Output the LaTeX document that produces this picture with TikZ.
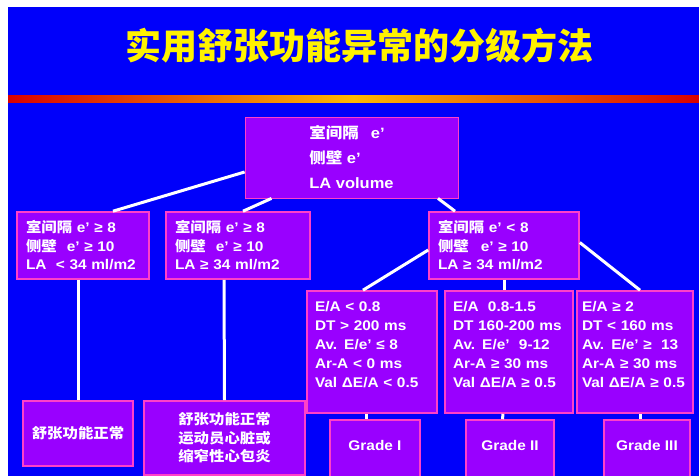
\documentclass[tikz,border=0pt]{standalone}
\usepackage{fontspec}
\setmainfont{Liberation Sans}[FakeStretch=1.1]
\newfontfamily\cjk{Noto Sans CJK SC}[FakeStretch=1.1]
\newfontfamily\cjktitle{Noto Sans CJK SC}
\newcommand{\zh}[1]{{\cjk #1}}
\definecolor{bgblue}{RGB}{0,0,250}
\definecolor{boxpurple}{RGB}{153,0,255}
\definecolor{boxpink}{RGB}{255,64,200}
\tikzstyle{box} = [rectangle, draw=boxpink, line width=1.6pt, fill=boxpurple, text=white, font=\bfseries\fontsize{14}{18.5}\selectfont, align=left, inner xsep=9pt, inner ysep=1pt]
\tikzstyle{head} = [box, line width=0.8pt, minimum width=213pt, minimum height=81pt, font=\bfseries\fontsize{15}{25}\selectfont]
\tikzstyle{crit} = [box, minimum height=122pt, inner xsep=8pt, font=\bfseries\fontsize{14}{19.2}\selectfont]
\tikzstyle{plain} = [box, align=center, inner xsep=2pt]
\tikzstyle{link} = [white, line width=3pt]

\begin{document}
\begin{tikzpicture}[x=1pt, y=-1pt]

\clip (0,0) rectangle (699,476);
\fill[bgblue] (8,7) rectangle (699,476);
\shade[left color=red!85!black, right color=red!85!black, middle color=orange!55!yellow] (8,96) rectangle (699,103);

%% NODES

\node (title) at (359,46) [text=yellow, font=\cjktitle\bfseries\fontsize{36}{40}\selectfont] {实用舒张功能异常的分级方法};

\node (top) at (351.5,157.5) [head] {\zh{室间隔}\hspace{12pt}e’\\\zh{侧壁} e’\\LA volume};

\node (l1) at (83,245.5) [box, text width=114pt, minimum height=67pt] {\zh{室间隔} e’ ≥ 8\\\zh{侧壁}\hspace{10pt}e’ ≥ 10\\LA\ \ < 34 ml/m2};
\node (l2) [box, right of=l1, node distance=155pt, text width=126pt, minimum height=67pt] {\zh{室间隔} e’ ≥ 8\\\zh{侧壁}\hspace{10pt}e’ ≥ 10\\LA ≥ 34 ml/m2};
\node (l3) at (504,245.5) [box, text width=132pt, minimum height=67pt] {\zh{室间隔} e’ < 8\\\zh{侧壁}\hspace{12pt}e’ ≥ 10\\LA ≥ 34 ml/m2};

\node (g1) at (372,352) [crit, text width=114pt] {E/A < 0.8\\DT > 200 ms\\Av. E/e’ ≤ 8\\Ar-A < 0 ms\\Val ΔE/A < 0.5\\[-4pt]\mbox{}};
\node (g2) [crit, right of=g1, node distance=137pt, text width=112pt] {E/A\ \ 0.8-1.5\\DT 160-200 ms\\Av. E/e’\ \ 9-12\\Ar-A ≥ 30 ms\\Val ΔE/A ≥ 0.5\\[-4pt]\mbox{}};
\node (g3) [crit, right of=g2, node distance=126pt, text width=106pt, inner xsep=5pt] {E/A ≥ 2\\DT < 160 ms\\Av. E/e’ ≥\ \ 13\\Ar-A ≥ 30 ms\\Val ΔE/A ≥ 0.5\\[-4pt]\mbox{}};

\node (n1) at (78,433.5) [plain, minimum width=110pt, minimum height=65pt] {\zh{舒张功能正常}};
\node (n2) at (224.5,438) [plain, minimum width=161pt, minimum height=74pt] {\zh{舒张功能正常}\\\zh{运动员心脏或}\\\zh{缩窄性心包炎}};

\node (gr1) at (375,452) [plain, minimum width=90pt, minimum height=64pt] {Grade I\\[-6pt]\mbox{}};
\node (gr2) [plain, right of=gr1, node distance=135pt, minimum width=88pt, minimum height=64pt] {Grade II\\[-6pt]\mbox{}};
\node (gr3) [plain, right of=gr2, node distance=137pt, minimum width=86pt, minimum height=64pt] {Grade III\\[-6pt]\mbox{}};

%% LINKS

\draw [link] ([yshift=-14.5pt]top.west) -- ([xshift=30pt]l1.north);
\draw [link] ([xshift=-80pt]top.south) -- ([xshift=5pt]l2.north);
\draw [link] ([xshift=86.5pt]top.south) -- ([xshift=-49pt]l3.north);
\draw [link] ([xshift=-5pt]l1.south) -- ([xshift=0pt]n1.north);
\draw [link] ([xshift=-14pt]l2.south) -- (n2.north);
\draw [link] ([yshift=-4.5pt]l3.west) -- ([xshift=-9pt]g1.north);
\draw [link] (l3.south) -- ([xshift=-5pt]g2.north);
\draw [link] ([yshift=3pt]l3.east) -- ([xshift=5pt]g3.north);
\draw [link] ([xshift=-6pt]g1.south) -- ([xshift=-9pt]gr1.north);
\draw [link] ([xshift=-6pt]g2.south) -- ([xshift=-7.5pt]gr2.north);
\draw [link] ([xshift=5pt]g3.south) -- ([xshift=-7pt]gr3.north);

\end{tikzpicture}
\end{document}
